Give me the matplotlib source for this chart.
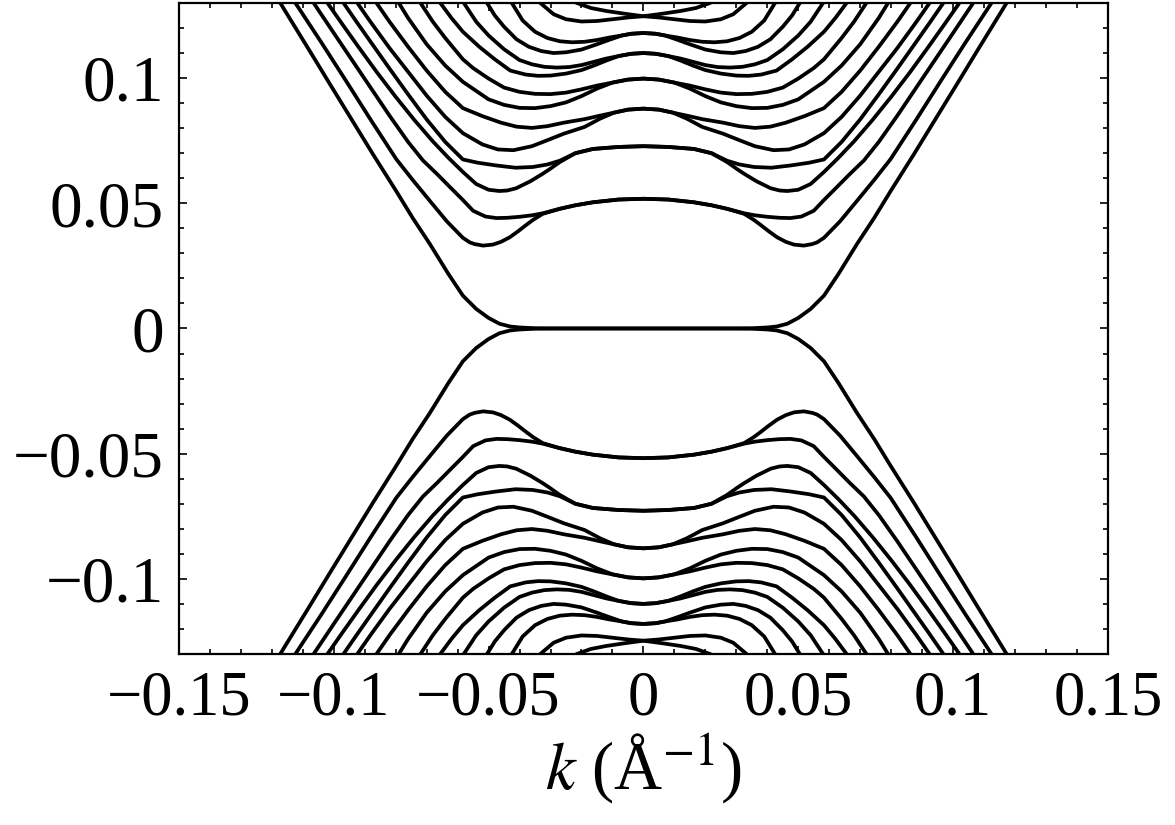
import matplotlib
matplotlib.use("Agg")
import matplotlib.pyplot as plt
from matplotlib.ticker import MultipleLocator

plt.rcParams['font.family'] = ['Liberation Serif', 'DejaVu Serif']
plt.rcParams['mathtext.fontset'] = 'stix'

# subbands: right half (k >= 0), upper half (E >= 0).
# the figure is symmetric in k and in E, so the other quadrants are mirrored.
b1_k = [0, 0.01, 0.02, 0.03, 0.035, 0.04, 0.0431, 0.0465, 0.05, 0.054, 0.0583, 0.063, 0.069, 0.0745, 0.0798, 0.0873, 0.094, 0.1013, 0.108, 0.1158, 0.118]
b1_e = [0, 0, 0, 0, 0.0001, 0.0004, 0.0008, 0.0019, 0.0042, 0.0078, 0.0131, 0.0218, 0.0338, 0.0441, 0.0548, 0.0695, 0.083, 0.0977, 0.1113, 0.127, 0.1315]

b2_k = [0, 0.008, 0.0163, 0.022, 0.027, 0.0325, 0.0355, 0.0378, 0.0405, 0.0432, 0.046, 0.0486, 0.0518, 0.0545, 0.0561, 0.0583, 0.0635, 0.069, 0.0745, 0.0798, 0.088, 0.096, 0.104, 0.1124, 0.1135]
b2_e = [0.0518, 0.0515, 0.0504, 0.0492, 0.0478, 0.0458, 0.0435, 0.0414, 0.0388, 0.0364, 0.0346, 0.0335, 0.0331, 0.0337, 0.0344, 0.0362, 0.0428, 0.051, 0.0593, 0.0676, 0.0832, 0.0988, 0.1142, 0.13, 0.1322]

b3_k = [0, 0.008, 0.0163, 0.022, 0.027, 0.0325, 0.036, 0.04, 0.044, 0.0475, 0.051, 0.055, 0.0583, 0.0625, 0.0665, 0.0712, 0.076, 0.082, 0.088, 0.094, 0.1, 0.1065, 0.1075]
b3_e = [0.0518, 0.0515, 0.0504, 0.0492, 0.0478, 0.046, 0.0452, 0.0446, 0.0442, 0.0441, 0.0447, 0.047, 0.0513, 0.0565, 0.0615, 0.0671, 0.0745, 0.085, 0.096, 0.107, 0.118, 0.13, 0.132]

b4_k = [0, 0.008, 0.0163, 0.022, 0.0271, 0.0303, 0.0325, 0.0365, 0.0411, 0.044, 0.0465, 0.05, 0.054, 0.0583, 0.063, 0.068, 0.074, 0.08, 0.086, 0.092, 0.097, 0.1017, 0.103]
b4_e = [0.0728, 0.0725, 0.0717, 0.07, 0.0664, 0.0636, 0.0618, 0.0588, 0.056, 0.0551, 0.0549, 0.0554, 0.0577, 0.0625, 0.0682, 0.0747, 0.0833, 0.0925, 0.1022, 0.1124, 0.1211, 0.1294, 0.1318]

b5_k = [0, 0.008, 0.0163, 0.022, 0.027, 0.031, 0.0357, 0.0413, 0.0475, 0.0535, 0.0583, 0.064, 0.07, 0.076, 0.082, 0.088, 0.0925, 0.0963, 0.0975]
b5_e = [0.0728, 0.0725, 0.0717, 0.07, 0.067, 0.0655, 0.0645, 0.0642, 0.0651, 0.0662, 0.0675, 0.0745, 0.0835, 0.0935, 0.1038, 0.1143, 0.1222, 0.129, 0.1312]

b6_k = [0, 0.005, 0.0095, 0.014, 0.019, 0.0257, 0.031, 0.036, 0.042, 0.047, 0.052, 0.0583, 0.064, 0.07, 0.076, 0.082, 0.088, 0.091, 0.0935]
b6_e = [0.0878, 0.0874, 0.0862, 0.0838, 0.0805, 0.0778, 0.0752, 0.0728, 0.0712, 0.0715, 0.0735, 0.078, 0.0845, 0.093, 0.1025, 0.112, 0.1222, 0.1275, 0.132]

b7_k = [0, 0.005, 0.0095, 0.014, 0.019, 0.0257, 0.031, 0.036, 0.041, 0.046, 0.052, 0.0583, 0.064, 0.07, 0.076, 0.082, 0.0862, 0.0875]
b7_e = [0.0878, 0.0874, 0.0862, 0.085, 0.0836, 0.0822, 0.0808, 0.0801, 0.0806, 0.0822, 0.0848, 0.088, 0.0945, 0.103, 0.1125, 0.1225, 0.13, 0.1322]

b8_k = [0, 0.005, 0.01, 0.015, 0.02, 0.025, 0.03, 0.035, 0.04, 0.045, 0.05, 0.0583, 0.064, 0.07, 0.076, 0.079, 0.0805]
b8_e = [0.0998, 0.0994, 0.0982, 0.0958, 0.0928, 0.0903, 0.0888, 0.088, 0.0881, 0.0893, 0.0915, 0.0985, 0.105, 0.1135, 0.124, 0.13, 0.133]

b9_k = [0, 0.005, 0.01, 0.015, 0.02, 0.025, 0.03, 0.035, 0.04, 0.045, 0.05, 0.055, 0.0583, 0.064, 0.068, 0.072, 0.0735]
b9_e = [0.0998, 0.0994, 0.0982, 0.097, 0.0955, 0.0942, 0.0936, 0.0937, 0.0945, 0.0962, 0.0998, 0.104, 0.1075, 0.116, 0.1225, 0.13, 0.1325]

b10_k = [0, 0.004, 0.008, 0.012, 0.016, 0.02, 0.025, 0.03, 0.034, 0.038, 0.043, 0.048, 0.053, 0.0583, 0.062, 0.0656, 0.067]
b10_e = [0.11, 0.1097, 0.1088, 0.107, 0.105, 0.1032, 0.1018, 0.101, 0.1009, 0.1014, 0.103, 0.1075, 0.1125, 0.1185, 0.124, 0.13, 0.1322]

b11_k = [0, 0.004, 0.008, 0.012, 0.016, 0.02, 0.024, 0.028, 0.032, 0.036, 0.04, 0.045, 0.05, 0.054, 0.058, 0.0595]
b11_e = [0.11, 0.1097, 0.1088, 0.1078, 0.1065, 0.1052, 0.1044, 0.1042, 0.1045, 0.1055, 0.1072, 0.1115, 0.117, 0.1225, 0.13, 0.1325]

b12_k = [0, 0.004, 0.007, 0.011, 0.015, 0.02, 0.025, 0.029, 0.033, 0.037, 0.041, 0.045, 0.048, 0.0505, 0.052]
b12_e = [0.118, 0.1177, 0.117, 0.1153, 0.1135, 0.1114, 0.1103, 0.11, 0.1108, 0.1125, 0.1155, 0.1205, 0.125, 0.13, 0.1325]

b13_k = [0, 0.004, 0.007, 0.011, 0.015, 0.019, 0.023, 0.027, 0.031, 0.035, 0.039, 0.0425, 0.044]
b13_e = [0.118, 0.1177, 0.117, 0.1162, 0.1152, 0.1145, 0.1143, 0.1147, 0.116, 0.1185, 0.123, 0.13, 0.133]

b14_k = [0, 0.005, 0.01, 0.015, 0.02, 0.025, 0.029, 0.0333, 0.035]
b14_e = [0.1247, 0.1242, 0.1235, 0.1228, 0.1226, 0.1235, 0.1255, 0.13, 0.1325]

b15_k = [0, 0.006, 0.012, 0.017, 0.0215, 0.023]
b15_e = [0.1247, 0.1257, 0.1268, 0.128, 0.13, 0.131]

bands = [(b1_k, b1_e), (b2_k, b2_e), (b3_k, b3_e), (b4_k, b4_e), (b5_k, b5_e),
         (b6_k, b6_e), (b7_k, b7_e), (b8_k, b8_e), (b9_k, b9_e), (b10_k, b10_e),
         (b11_k, b11_e), (b12_k, b12_e), (b13_k, b13_e), (b14_k, b14_e), (b15_k, b15_e)]

fig = plt.figure(figsize=(11.75, 8.25), dpi=100)
ax = fig.add_axes([0.1523, 0.2073, 0.7906, 0.7891])

for ks, es in bands:
    kk = [-k for k in ks[::-1]] + ks[1:]
    ee = es[::-1] + es[1:]
    ax.plot(kk, ee, color='black', lw=2.7, solid_joinstyle='round')
    ax.plot(kk, [-e for e in ee], color='black', lw=2.7, solid_joinstyle='round')

ax.set_xlim(-0.15, 0.15)
ax.set_ylim(-0.13, 0.13)
ax.xaxis.set_minor_locator(MultipleLocator(0.01))
ax.yaxis.set_minor_locator(MultipleLocator(0.01))
ax.set_xticks([-0.15, -0.1, -0.05, 0, 0.05, 0.1, 0.15])
ax.set_xticklabels(['\u22120.15', '\u22120.1', '\u22120.05', '0', '0.05', '0.1', '0.15'])
ax.set_yticks([-0.1, -0.05, 0, 0.05, 0.1])
ax.set_yticklabels(['\u22120.1', '\u22120.05', '0', '0.05', '0.1'])
ax.tick_params(which='both', direction='in', top=True, right=True, width=1.2)
ax.tick_params(which='major', length=6)
ax.tick_params(which='minor', length=3.5)
ax.tick_params(axis='y', labelsize=47, pad=11)
ax.tick_params(axis='x', labelsize=45, pad=12)
for s in ax.spines.values():
    s.set_linewidth(1.6)
ax.set_xlabel('$k$ (\u00c5$^{-1}$)', fontsize=48, labelpad=2)

fig.savefig('out.png', dpi=100)
